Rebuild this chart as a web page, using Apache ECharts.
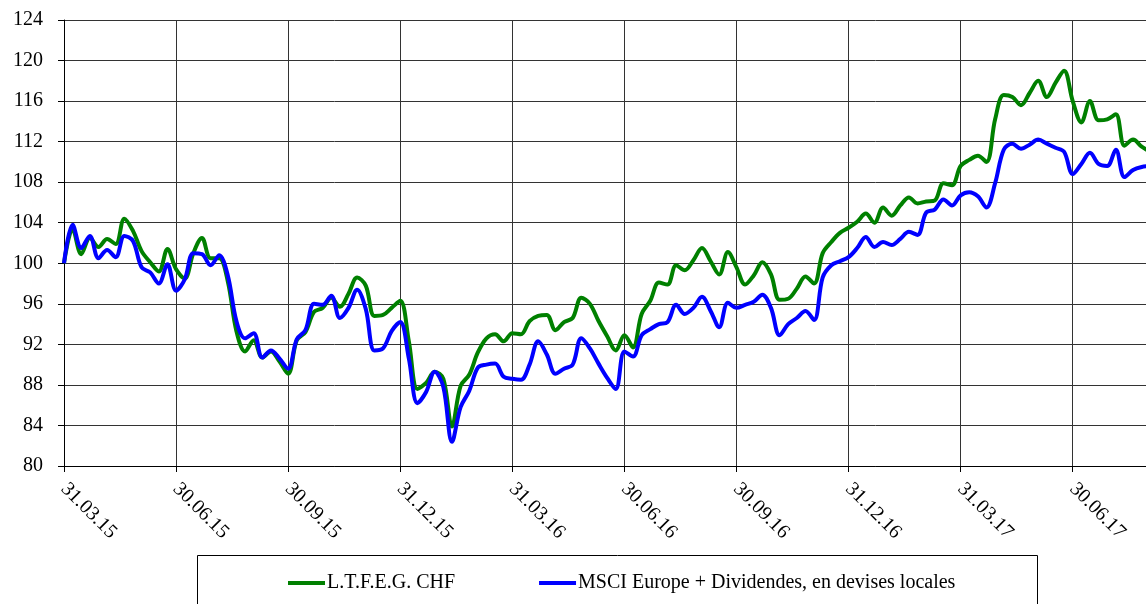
<!DOCTYPE html>
<html>
<head>
<meta charset="utf-8">
<script src="https://cdn.jsdelivr.net/npm/echarts@6/dist/echarts.min.js"></script>
<style>
  html, body { margin: 0; padding: 0; background: #fff; }
  #chart { width: 1146px; height: 604px; }
</style>
</head>
<body>
<div id="chart"></div>
<script>
// weekly closes, indexed to 100 on 31.03.15
let quarterLabels = ['31.03.15', '30.06.15', '30.09.15', '31.12.15', '31.03.16', '30.06.16', '30.09.16', '31.12.16', '31.03.17', '30.06.17']
let seriesNames = ['L.T.F.E.G. CHF', 'MSCI Europe + Dividendes, en devises locales']

let ltfeg = [
    100.0, 103.4, 100.9, 102.5, 101.6, 102.4, 101.9, 104.4, 103.2, 101.2,
    100.1, 99.2, 101.4, 99.4, 98.5, 101.0, 102.5, 100.5, 100.5, 98.2,
    93.3, 91.3, 92.4, 90.7, 91.3, 90.3, 89.1, 92.4, 93.2, 95.2,
    95.6, 96.6, 95.7, 97.0, 98.6, 97.8, 94.8, 94.9, 95.6, 96.3,
    92.3, 87.6, 88.2, 89.3, 88.6, 83.9, 87.9, 89.0, 91.2, 92.6,
    93.0, 92.3, 93.1, 93.0, 94.3, 94.8, 94.9, 93.4, 94.2, 94.6,
    96.6, 96.0, 94.3, 92.8, 91.4, 92.9, 91.7, 95.0, 96.3, 98.1,
    97.9, 99.8, 99.3, 100.3, 101.5, 100.2, 98.9, 101.1, 99.6, 97.9,
    98.8, 100.1, 98.9, 96.4, 96.5, 97.5, 98.7, 98.0, 101.0, 102.1,
    103.0, 103.5, 104.1, 104.9, 104.0, 105.5, 104.7, 105.7, 106.5, 105.9,
    106.1, 106.2, 107.9, 107.7, 109.6, 110.2, 110.6, 110.0, 114.2, 116.6,
    116.4, 115.6, 116.8, 118.0, 116.4, 117.8, 119.0, 116.0, 113.9, 116.0,
    114.1, 114.2, 114.7, 111.6, 112.2, 111.5, 111.0
]

let msci = [
    100.0, 103.8, 101.5, 102.7, 100.5, 101.3, 100.6, 102.7, 102.2, 99.6,
    99.1, 98.0, 99.9, 97.3, 98.4, 101.0, 100.9, 99.8, 100.8, 98.8,
    94.3, 92.6, 93.1, 90.7, 91.4, 90.6, 89.6, 92.5, 93.4, 96.0,
    95.9, 96.8, 94.6, 95.6, 97.4, 95.5, 91.4, 91.6, 93.3, 94.2,
    90.6, 86.2, 87.3, 89.3, 87.8, 82.4, 85.8, 87.4, 89.7, 90.0,
    90.1, 88.8, 88.6, 88.5, 90.0, 92.3, 91.0, 89.1, 89.6, 90.0,
    92.6, 91.6, 90.1, 88.7, 87.6, 91.3, 90.8, 92.9, 93.5, 94.0,
    94.2, 95.9, 95.0, 95.6, 96.7, 95.3, 93.7, 96.1, 95.6, 95.9,
    96.2, 96.9, 95.6, 92.9, 94.0, 94.6, 95.3, 94.4, 98.6, 99.8,
    100.2, 100.6, 101.5, 102.6, 101.6, 102.1, 101.8, 102.4, 103.1, 102.8,
    105.0, 105.3, 106.3, 105.7, 106.7, 107.0, 106.6, 105.5, 107.9, 111.2,
    111.8, 111.3, 111.7, 112.2, 111.8, 111.4, 111.0, 108.8, 109.8, 110.9,
    109.8, 109.6, 111.2, 108.5, 109.2, 109.5, 109.6
]

const weeksPerQuarter = 13
const fontFamily = '"Liberation Serif", "DejaVu Serif", serif'

const toPairs = (values) => values.map((v, i) => [i, v])

let chart = echarts.init(document.getElementById('chart'))

let option = {
    animation: false,
    backgroundColor: '#fff',
    grid: { left: 64, top: 20, right: 0, bottom: 138 },
    xAxis: {
        type: 'value',
        min: 0,
        max: 125.5,
        interval: weeksPerQuarter,
        axisLine: { lineStyle: { color: '#000', width: 1 } },
        axisTick: { show: true, length: 6, lineStyle: { color: '#000' } },
        splitLine: { show: true, lineStyle: { color: '#333', width: 1 } },
        axisLabel: {
            rotate: -45,
            margin: 20,
            color: '#000',
            fontSize: 20,
            fontFamily: fontFamily,
            showMaxLabel: false,
            formatter: (v) => {
                if (v % weeksPerQuarter !== 0) return ''
                return quarterLabels[v / weeksPerQuarter] || ''
            }
        }
    },
    yAxis: {
        type: 'value',
        min: 80,
        max: 124,
        interval: 4,
        axisLine: { show: true, lineStyle: { color: '#000', width: 1 } },
        axisTick: { show: true, length: 6, lineStyle: { color: '#000' } },
        splitLine: { show: true, lineStyle: { color: '#333', width: 1 } },
        axisLabel: { margin: 21, color: '#000', fontSize: 20, fontFamily: fontFamily }
    },
    legend: {
        data: seriesNames,
        left: 283,
        top: 568,
        itemWidth: 37,
        itemHeight: 4,
        itemGap: 84,
        icon: 'rect',
        textStyle: { color: '#000', fontSize: 20, fontFamily: fontFamily, padding: [0, 0, 0, -3] }
    },
    graphic: [{
        type: 'rect',
        shape: { x: 197.5, y: 555.5, width: 840, height: 70 },
        style: { fill: 'none', stroke: '#000', lineWidth: 1 },
        z: -1
    }],
    series: [
        {
            name: seriesNames[0],
            type: 'line',
            data: toPairs(ltfeg),
            smooth: 0.35,
            showSymbol: false,
            color: '#008000',
            lineStyle: { width: 4, color: '#008000' }
        },
        {
            name: seriesNames[1],
            type: 'line',
            data: toPairs(msci),
            smooth: 0.35,
            showSymbol: false,
            color: '#0000ff',
            lineStyle: { width: 4, color: '#0000ff' }
        }
    ]
}

chart.setOption(option)
</script>
</body>
</html>
